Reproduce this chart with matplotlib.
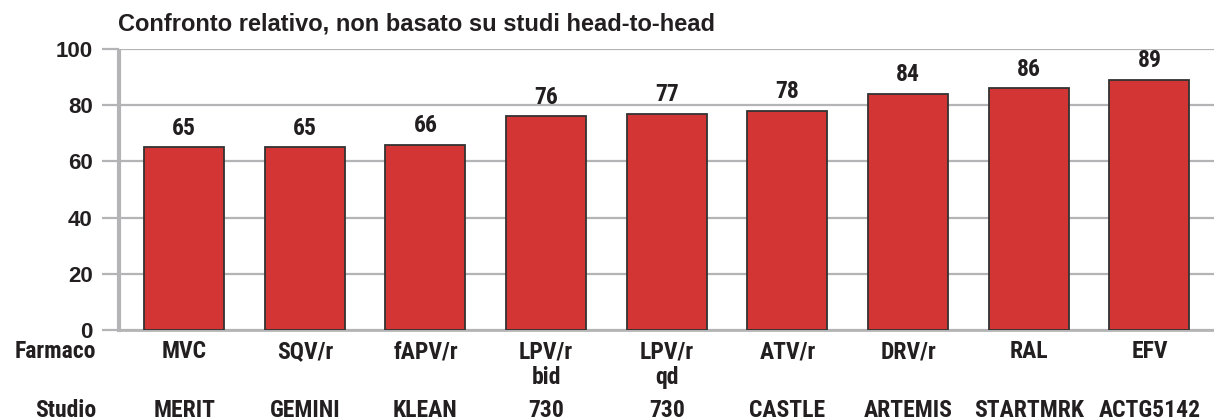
import matplotlib
matplotlib.use("Agg")
import matplotlib.pyplot as plt

# data
farmaco = ["MVC", "SQV/r", "fAPV/r", "LPV/r\nbid", "LPV/r\nqd", "ATV/r", "DRV/r", "RAL", "EFV"]
studio = ["MERIT", "GEMINI", "KLEAN", "730", "730", "CASTLE", "ARTEMIS", "STARTMRK", "ACTG5142"]
values = [65, 65, 66, 76, 77, 78, 84, 86, 89]
yticks = [0, 20, 40, 60, 80, 100]

TITLE = "Confronto relativo, non basato su studi head-to-head"
BAR = "#d33535"
GRID = "#b4b4b6"
TXT = "#231f20"

wide = ["Liberation Sans", "DejaVu Sans"]
narrow = ["Roboto Condensed", "Liberation Sans", "DejaVu Sans"]
FS = 17

fig = plt.figure(figsize=(12.14, 4.2), dpi=100)
ax = fig.add_axes([119 / 1214, 90 / 420, 1 - 119 / 1214, 281 / 420])

x = list(range(len(values)))
ax.bar(x, values, width=0.663, color=BAR, edgecolor="#333333", linewidth=1.3, zorder=3)

ax.set_xlim(-0.54, len(values) - 1 + 0.535)
ax.set_ylim(0, 100)
ax.set_yticks(yticks)
ax.set_yticklabels([str(t) for t in yticks], fontsize=16, fontweight="bold",
                   family=wide, color=TXT)
ax.set_xticks([])
ax.grid(axis="y", color=GRID, linewidth=1.6, zorder=0)
ax.tick_params(axis="y", length=12, width=1.6, color=GRID, pad=7)

for s in ["top", "right"]:
    ax.spines[s].set_visible(False)
ax.spines["left"].set_color(GRID)
ax.spines["left"].set_linewidth(3)
ax.spines["left"].set_bounds(0, 99.3)
ax.spines["bottom"].set_color(GRID)
ax.spines["bottom"].set_linewidth(2)

# value labels above the bars
for i, v in enumerate(values):
    ax.annotate(str(v), xy=(i, v), xytext=(0, 9), textcoords="offset points",
                ha="center", va="baseline", fontsize=FS, fontweight="bold",
                family=narrow, color=TXT)

# two rows of category labels under the axis
for i, (f, s) in enumerate(zip(farmaco, studio)):
    ax.annotate(f, xy=(i, 0), xycoords=("data", "axes fraction"),
                xytext=(0, -7.5), textcoords="offset points",
                ha="center", va="top", fontsize=FS, fontweight="bold",
                family=narrow, color=TXT, linespacing=1.15)
    ax.annotate(s, xy=(i, 0), xycoords=("data", "axes fraction"),
                xytext=(0, -62.6), textcoords="offset points",
                ha="center", va="baseline", fontsize=FS, fontweight="bold",
                family=narrow, color=TXT)

ax.annotate("Farmaco", xy=(0, 0), xycoords="axes fraction",
            xytext=(-16.6, -7.5), textcoords="offset points",
            ha="right", va="top", fontsize=FS, fontweight="bold",
            family=narrow, color=TXT)
ax.annotate("Studio", xy=(0, 0), xycoords="axes fraction",
            xytext=(-16.6, -62.6), textcoords="offset points",
            ha="right", va="baseline", fontsize=FS, fontweight="bold",
            family=narrow, color=TXT)

fig.text(118 / 1214, 1 - 30 / 420, TITLE, ha="left", va="baseline",
         fontsize=17, fontweight="bold", family=wide, color=TXT)

fig.savefig("out.png", dpi=100)
